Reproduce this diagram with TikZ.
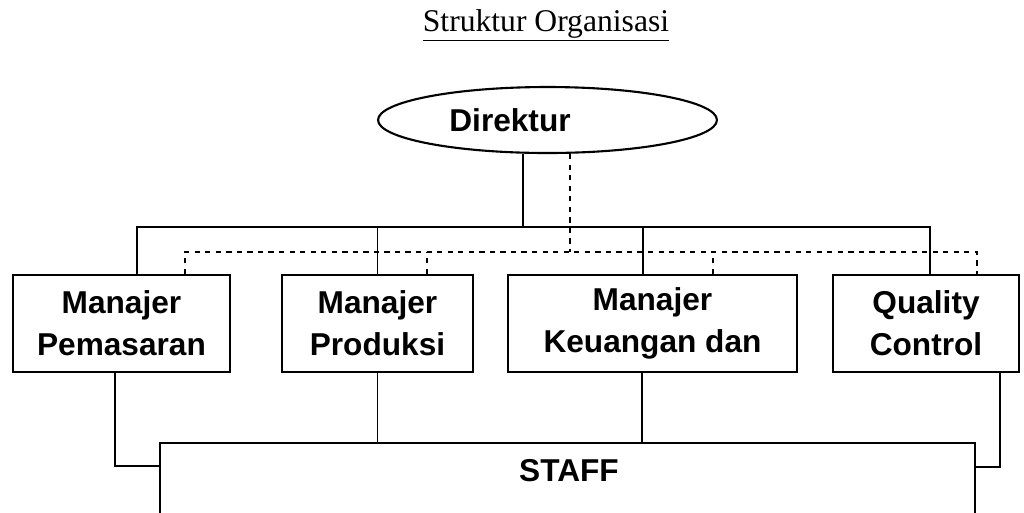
\documentclass[tikz,border=0pt]{standalone}
\usepackage{fontspec}
\setmainfont{Liberation Serif}
\newfontfamily\boxfont{Liberation Sans}
\usetikzlibrary{shapes.geometric}
\begin{document}
\begin{tikzpicture}[x=0.02cm,y=-0.02cm,
        box/.style={draw,line width=1.2pt,fill=white,inner sep=0,align=center,minimum height=1.94cm,font=\boxfont\bfseries\fontsize{18}{24}\selectfont},
        link/.style={line width=1pt},
        dlink/.style={line width=1pt,dash pattern=on 3pt off 3pt}]
        \useasboundingbox (0,0) rectangle (1024,512);
        \node[anchor=base] (judul) at (546,31) {\fontsize{18}{22}\selectfont\underline{Struktur Organisasi}};
        \node[box,ellipse,minimum width=6.78cm,minimum height=1.32cm] (dir) at (547.5,120) {Direktur\hspace*{1.5cm}};
        \node[box,minimum width=4.34cm] (pem) at (121.5,323.5) {Manajer\\Pemasaran};
        \node[box,minimum width=3.82cm] (prod) at (377.5,323.5) {Manajer\\Produksi};
        \node[box,minimum width=5.78cm] (keu) at (652.5,323.5) {Manajer\\Keuangan dan};
        \node[box,minimum width=3.72cm] (qc) at (926,323.5) {Quality\\Control};
        \node[box,anchor=north,minimum width=16.3cm,minimum height=3cm] (staff) at (567.5,442) {};
        \node[font=\boxfont\bfseries\fontsize{18}{24}\selectfont] (stafftext) at (569,471) {STAFF};
        % garis komando
        \coordinate (bus) at (523,227);
        \draw[link] (dir.south -| bus) -- (bus);
        \draw[link] ([xshift=0.31cm]pem.north) |- (bus) -| ([xshift=0.08cm]qc.north);
        \draw[link] (prod.north) -- (prod.north |- bus);
        \draw[link] ([xshift=-0.19cm]keu.north) -- ([xshift=-0.19cm]keu.north |- bus);
        % garis koordinasi
        \coordinate (dbus) at (570,252);
        \draw[dlink] (dir.south -| dbus) -- (dbus);
        \draw[dlink] ([xshift=1.27cm]pem.north) |- (dbus) -| ([xshift=1.02cm]qc.north);
        \draw[dlink] ([xshift=0.99cm]prod.north) -- ([xshift=0.99cm]prod.north |- dbus);
        \draw[dlink] ([xshift=1.21cm]keu.north) -- ([xshift=1.21cm]keu.north |- dbus);
        % ke staff
        \draw[link] ([xshift=-0.13cm]pem.south) |- ([yshift=-0.48cm]staff.north west);
        \draw[link] (prod.south) -- (prod.south |- staff.north);
        \draw[link] ([xshift=-0.21cm]keu.south) -- ([xshift=-0.21cm]keu.south |- staff.north);
        \draw[link] ([xshift=1.48cm]qc.south) |- ([yshift=-0.5cm]staff.north east);
\end{tikzpicture}
\end{document}
